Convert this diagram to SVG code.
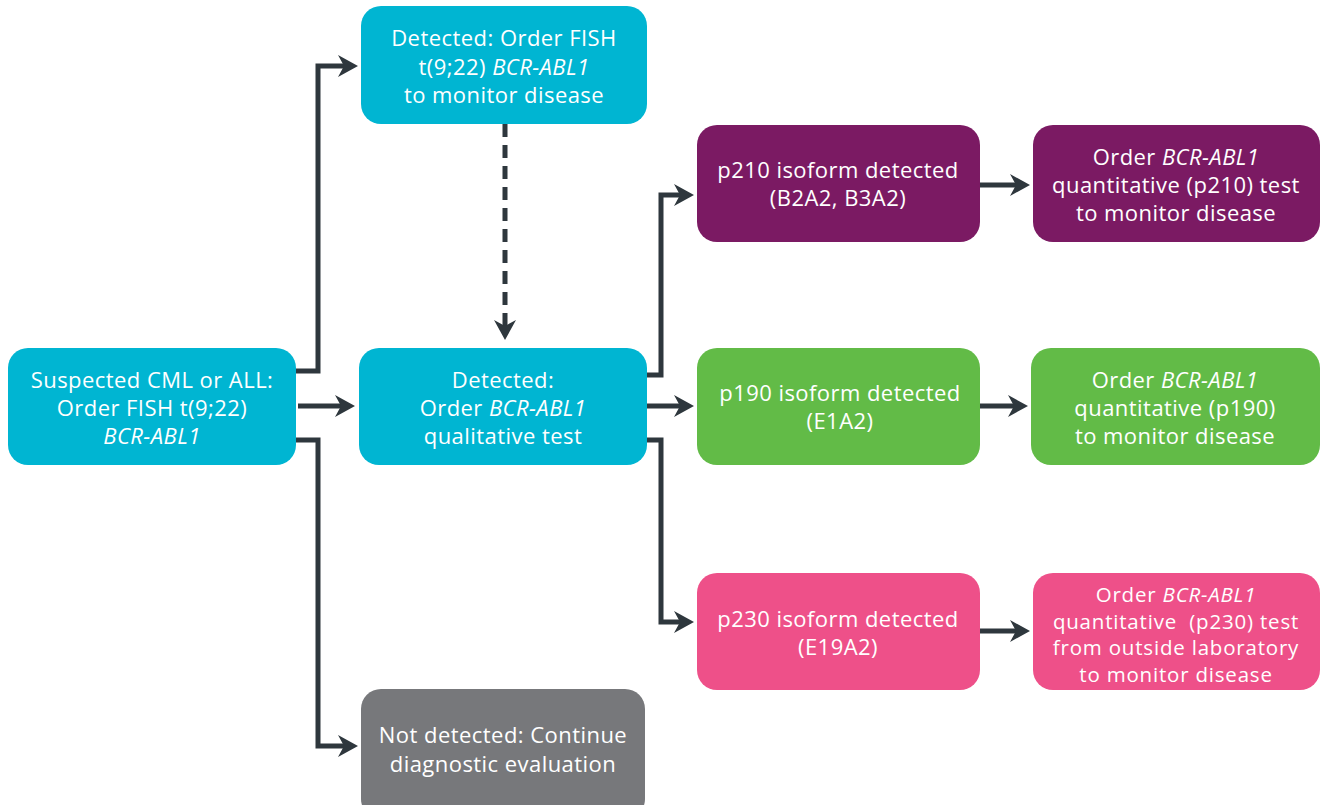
<svg xmlns="http://www.w3.org/2000/svg" width="1320" height="805" viewBox="0 0 1320 805">
<style>
.n text{font-family:"Open Sans","Liberation Sans",sans-serif;font-size:22px;letter-spacing:0.45px;fill:#fff;text-anchor:middle}
.n text.s{font-size:20.5px;letter-spacing:0.8px}
.i{font-style:italic}
.cy{fill:#00b5d2}.pu{fill:#7b1a63}.gr{fill:#62bb47}.pk{fill:#ee5089}.gy{fill:#77787b}
.c path{fill:none;stroke:#2e373d;stroke-width:5;marker-end:url(#ah)}
.c .d{stroke-dasharray:13 8}
</style>
<defs>
<marker id="ah" markerUnits="userSpaceOnUse" viewBox="-8 -12 24 24" markerWidth="24" markerHeight="24" refX="0" refY="0" orient="auto">
<path d="M14,0 L-6,-11 L0,0 L-6,11 Z" fill="#2e373d"/>
</marker>
</defs>
<g class="c" id="connectors">
<path d="M296,371 H318 V66 H344"/>
<path d="M298,406 H341"/>
<path d="M296,440 H318 V746 H344"/>
<path class="d" d="M505,124 V326"/>
<path d="M647,375 H661 V195 H680"/>
<path d="M647,406 H680"/>
<path d="M647,440 H661 V622 H680"/>
<path d="M980,185 H1016"/>
<path d="M980,406 H1014"/>
<path d="M980,631 H1016"/>
</g>
<g class="n" id="suspected">
<rect class="cy" x="8" y="348" width="288" height="117" rx="20"/>
<text x="152" y="388">Suspected CML or ALL:</text>
<text x="152" y="416">Order FISH t(9;22)</text>
<text x="152" y="444" class="i">BCR-ABL1</text>
</g>
<g class="n" id="fish">
<rect class="cy" x="361" y="6" width="286" height="118" rx="20"/>
<text x="504" y="46">Detected: Order FISH</text>
<text x="504" y="75">t(9;22) <tspan class="i">BCR-ABL1</tspan></text>
<text x="504" y="103">to monitor disease</text>
</g>
<g class="n" id="qualitative">
<rect class="cy" x="359" y="348" width="288" height="117" rx="20"/>
<text x="503" y="388">Detected:</text>
<text x="503" y="416">Order <tspan class="i">BCR-ABL1</tspan></text>
<text x="503" y="444">qualitative test</text>
</g>
<g class="n" id="notdetected">
<rect class="gy" x="361" y="689" width="284" height="130" rx="20"/>
<text x="503" y="743">Not detected: Continue</text>
<text x="503" y="772">diagnostic evaluation</text>
</g>
<g class="n" id="p210">
<rect class="pu" x="697" y="125" width="283" height="117" rx="20"/>
<text x="838" y="178">p210 isoform detected</text>
<text x="838" y="206">(B2A2, B3A2)</text>
</g>
<g class="n" id="p210q">
<rect class="pu" x="1033" y="125" width="287" height="117" rx="20"/>
<text x="1176" y="165">Order <tspan class="i">BCR-ABL1</tspan></text>
<text x="1176" y="193">quantitative (p210) test</text>
<text x="1176" y="221">to monitor disease</text>
</g>
<g class="n" id="p190">
<rect class="gr" x="697" y="348" width="283" height="117" rx="20"/>
<text x="840" y="401">p190 isoform detected</text>
<text x="840" y="429">(E1A2)</text>
</g>
<g class="n" id="p190q">
<rect class="gr" x="1031" y="348" width="289" height="117" rx="20"/>
<text x="1175" y="388">Order <tspan class="i">BCR-ABL1</tspan></text>
<text x="1175" y="416">quantitative (p190)</text>
<text x="1175" y="444">to monitor disease</text>
</g>
<g class="n" id="p230">
<rect class="pk" x="697" y="573" width="283" height="117" rx="20"/>
<text x="838" y="627">p230 isoform detected</text>
<text x="838" y="655">(E19A2)</text>
</g>
<g class="n" id="p230q">
<rect class="pk" x="1033" y="573" width="287" height="117" rx="20"/>
<text class="s" x="1176" y="602">Order <tspan class="i">BCR-ABL1</tspan></text>
<text class="s" x="1176" y="629" xml:space="preserve">quantitative  (p230) test</text>
<text class="s" x="1176" y="655">from outside laboratory</text>
<text class="s" x="1176" y="682">to monitor disease</text>
</g>
</svg>
